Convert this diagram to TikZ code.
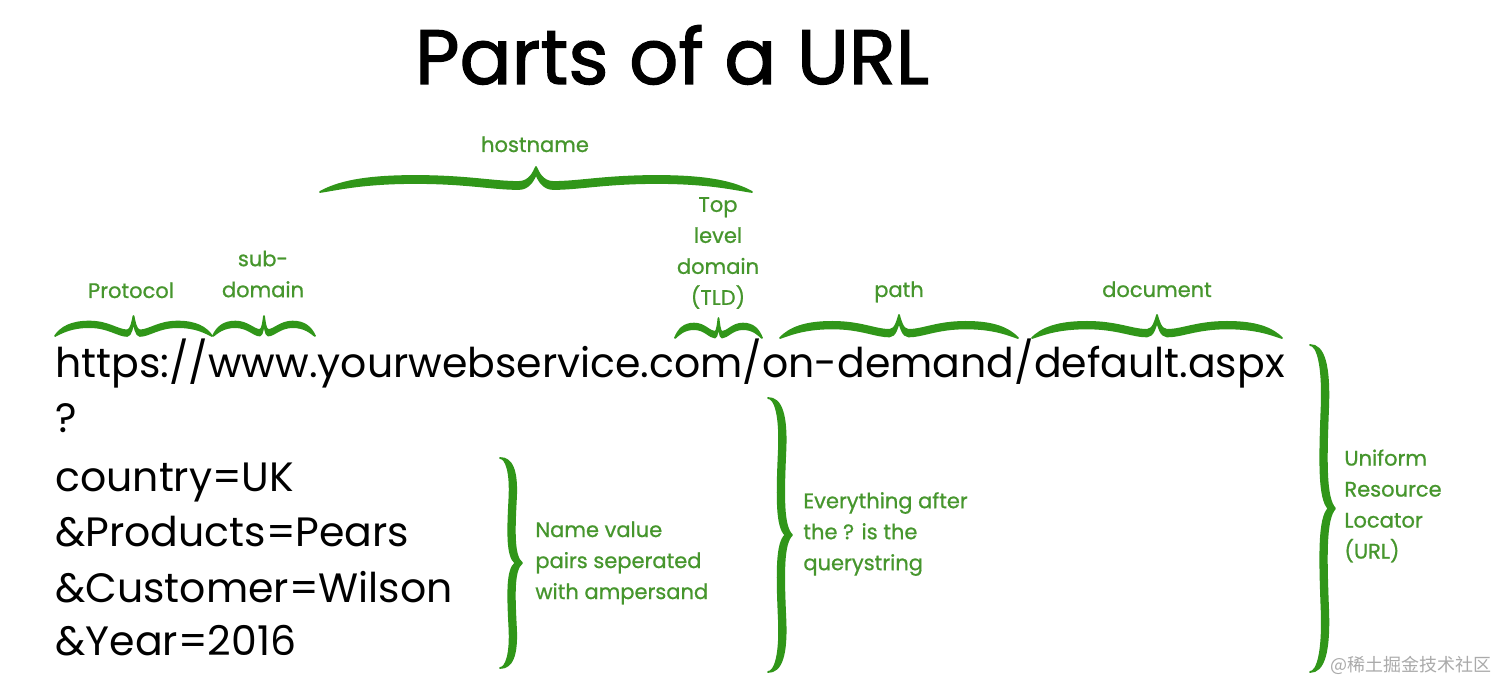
\documentclass[tikz,border=0pt]{standalone}
\usepackage{fontspec}
\setmainfont{Poppins}
\newfontfamily\titlefont{Poppins}[FakeBold=1.6]
\newfontfamily\lblfont{Poppins}[FakeBold=0.8]
\newfontfamily\cjkfont{Noto Sans CJK SC}
\definecolor{lblgreen}{RGB}{70,150,45}
\definecolor{bracegreen}{RGB}{48,150,25}
\definecolor{wmgray}{RGB}{170,170,170}
\tikzset{
  brc/.style={fill=bracegreen,draw=bracegreen,line width=0.9pt,line join=round},
  lbl/.style={text=lblgreen,font=\lblfont\fontsize{10.5}{15.5}\selectfont,inner sep=0pt},
  blk/.style={text=black,font=\fontsize{20.5}{24}\selectfont,inner sep=0pt,anchor=base west},
}
% horizontal brace segment: #1 offset, #2 crest, #3 dip, #4 start u, #5 direction
\def\hbrseg#1#2#3#4#5{ .. controls ({(#4)+(#5)*0.04},{0.6*#2-#1}) and ({(#4)+(#5)*0.1},{#2-#1}) .. ({(#4)+(#5)*0.22},{#2-#1})
 .. controls ({(#4)+(#5)*0.34},{#2-#1}) and ({(#4)+(#5)*0.4},{#3-#1}) .. ({(#4)+(#5)*0.46},{#3-#1})
 .. controls ({(#4)+(#5)*0.485},{#3-#1}) and ({(#4)+(#5)*0.495},{0.8-#1}) .. ({0.5},{1-#1})
 .. controls ({(#4)+(#5)*0.505},{0.8-#1}) and ({(#4)+(#5)*0.515},{#3-#1}) .. ({(#4)+(#5)*0.54},{#3-#1})
 .. controls ({(#4)+(#5)*0.6},{#3-#1}) and ({(#4)+(#5)*0.66},{#2-#1}) .. ({(#4)+(#5)*0.78},{#2-#1})
 .. controls ({(#4)+(#5)*0.9},{#2-#1}) and ({(#4)+(#5)*0.96},{0.6*#2-#1}) .. ({(#4)+(#5)*1},0)}
% vertical brace segment: #1 offset, #2 start v, #3 direction
\def\vbrseg#1#2#3{ .. controls ({0.55-#1},{(#2)+(#3)*0}) and ({0.8-#1},{(#2)+(#3)*0.06}) .. ({0.72-#1},{(#2)+(#3)*0.2})
 .. controls ({0.64-#1},{(#2)+(#3)*0.36}) and ({0.62-#1},{(#2)+(#3)*0.47}) .. ({1-#1},{0.5})
 .. controls ({0.62-#1},{(#2)+(#3)*0.53}) and ({0.64-#1},{(#2)+(#3)*0.64}) .. ({0.72-#1},{(#2)+(#3)*0.8})
 .. controls ({0.8-#1},{(#2)+(#3)*0.94}) and ({0.55-#1},{(#2)+(#3)*1}) .. (0,{(#2)+(#3)*1})}
\newcommand{\hbr}[7]{% x1,x2,yb,h,t,crest,dip
 \pgfmathsetmacro\brW{#2-#1}\pgfmathsetmacro\brO{#5/#4}%
 \edef\brpath{(0,0) \hbrseg{0}{#6}{#7}{0}{1} \hbrseg{\brO}{#6}{#7}{1}{-1}}%
 \begin{scope}[shift={(#1,#3)},xscale=\brW,yscale=-#4]
 \filldraw[brc] \brpath -- cycle;
 \end{scope}}
\newcommand{\vbr}[5]{% x0,y1,y2,w,t
 \pgfmathsetmacro\brH{#3-#2}\pgfmathsetmacro\brO{#5/#4}%
 \edef\brpath{(0,0) \vbrseg{0}{0}{1} \vbrseg{\brO}{1}{-1}}%
 \begin{scope}[shift={(#1,#2)},xscale=#4,yscale=\brH]
 \filldraw[brc] \brpath -- cycle;
 \end{scope}}
\begin{document}
\begin{tikzpicture}[x=0.5pt,y=-0.5pt]
\fill[white] (0,0) rectangle (1500,683);
\useasboundingbox (0,0) rectangle (1500,683);

% title
\node[anchor=base,inner sep=0pt,font=\titlefont\fontsize{38.5}{46}\selectfont] (title) at (672,84) {Parts of a URL};

% URL text
\node[blk] (url) at (55,378) {https://www.yourwebservice.com/on-demand/default.aspx};
\node[blk] (qmark) at (55,433) {?};
\node[blk] (line1) at (55,492) {country=UK};
\node[blk] (line2) at (55,547) {\&Products=Pears};
\node[blk] (line3) at (55,603) {\&Customer=Wilson};
\node[blk] (line4) at (55,656) {\&Year=2016};

% horizontal braces
\hbr{55}{212}{336}{20}{5.5}{0.72}{0.28}
\hbr{213}{315}{336}{20}{5.5}{0.72}{0.3}
\hbr{320}{752}{192}{25}{7}{0.64}{0.4}
\hbr{675}{762}{338}{20}{5.5}{0.72}{0.3}
\hbr{780}{1018}{338}{23}{6.5}{0.7}{0.35}
\hbr{1032}{1282}{338}{23}{6.5}{0.7}{0.35}

% vertical braces
\vbr{500}{458}{668}{22}{6.5}
\vbr{768}{398}{672}{24}{6.5}
\vbr{1310}{345}{672}{25}{6.5}

% labels
\node[lbl,anchor=base] (hostname) at (535,152) {hostname};
\node[lbl,anchor=base] (protocol) at (131,298) {Protocol};
\node[lbl,align=center] (subdomain) at (263,274) {sub-\\domain};
\node[lbl,align=center] (tld) at (718,253) {Top\\level\\domain\\(TLD)};
\node[lbl,anchor=base] (path) at (899,297) {path};
\node[lbl,anchor=base] (document) at (1157,297) {document};
\node[lbl,align=left,anchor=west] (namevalue) at (535,563) {Name value\\pairs seperated\\with ampersand};
\node[lbl,align=left,anchor=west] (querystring) at (803,534) {Everything after\\the ? is the\\querystring};
\node[lbl,align=left,anchor=west] (urllabel) at (1344,506) {Uniform\\Resource\\Locator\\(URL)};

% watermark
\node[anchor=east,inner sep=0pt,text=wmgray,font=\cjkfont\fontsize{9}{11}\selectfont] (watermark) at (1492,665) {@稀土掘金技术社区};
\end{tikzpicture}
\end{document}
